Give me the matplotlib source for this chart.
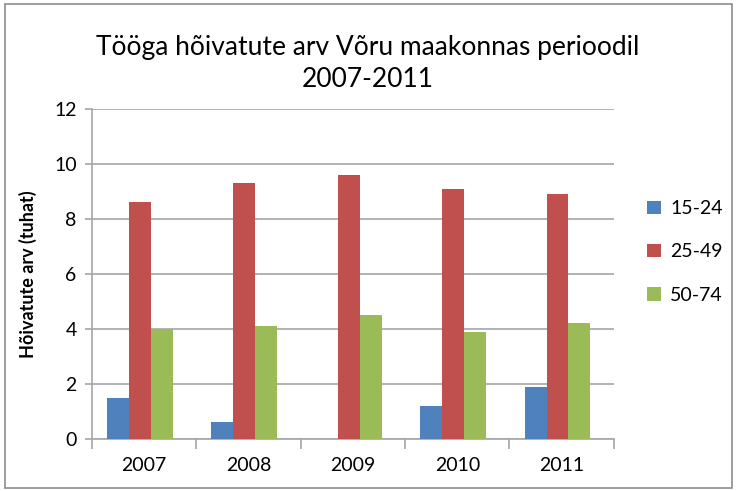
import numpy as np
import matplotlib.pyplot as plt
from matplotlib.patches import Rectangle

plt.rcParams['font.family'] = ['Lato', 'DejaVu Sans']

# data
years = ['2007', '2008', '2009', '2010', '2011']
groups = ['15-24', '25-49', '50-74']
v_15_24 = [1.5, 0.6, 0.0, 1.2, 1.9]
v_25_49 = [8.6, 9.3, 9.6, 9.1, 8.9]
v_50_74 = [4.0, 4.1, 4.5, 3.9, 4.2]
colors = ['#4f81bd', '#c0504d', '#9bbb59']

fig = plt.figure(figsize=(7.36, 4.91), dpi=100)
ax = fig.add_axes([0.125, 0.106, 0.709, 0.672])

x = np.arange(len(years))
w = 0.21
for i, (vals, lab) in enumerate(zip([v_15_24, v_25_49, v_50_74], groups)):
    ax.bar(x + (i - 1) * w - 0.04, vals, w, color=colors[i], label=lab, zorder=3)

ax.set_xlim(-0.5, len(years) - 0.5)
ax.set_ylim(0, 12)
ax.set_yticks(range(0, 13, 2))
ax.yaxis.grid(True, color='#a6a6a6', linewidth=1.2, zorder=0)
ax.set_xticks(x)
ax.set_xticklabels(years, fontsize=14)
ax.tick_params(axis='x', length=0, pad=13)
ax.set_xticks(np.arange(-0.5, len(years), 1), minor=True)
ax.tick_params(axis='x', which='minor', length=7, color='#a6a6a6', width=1.2, direction='out')
ax.tick_params(axis='y', labelsize=14, length=5, color='#a6a6a6', width=1.2, pad=6)
for s in ['top', 'right']:
    ax.spines[s].set_visible(False)
ax.spines['left'].set_color('#a6a6a6')
ax.spines['bottom'].set_color('#a6a6a6')
ax.spines['left'].set_linewidth(1.2)
ax.spines['bottom'].set_linewidth(1.2)

ax.set_ylabel('Hõivatute arv (tuhat)', fontsize=13, fontweight='bold', labelpad=12)
fig.text(0.5, 0.87, 'Tööga hõivatute arv Võru maakonnas perioodil\n2007-2011',
         ha='center', va='center', fontsize=19, linespacing=1.35)

ax.legend(loc='center left', bbox_to_anchor=(1.03, 0.567), frameon=False, fontsize=14,
          handlelength=0.7, handleheight=0.7, labelspacing=1.35, handletextpad=0.5)

fig.patches.append(Rectangle((0.007, 0.006), 0.988, 0.986, transform=fig.transFigure,
                             fill=False, edgecolor='#8c8c8c', linewidth=1.2))

fig.savefig('out.png', dpi=100)
